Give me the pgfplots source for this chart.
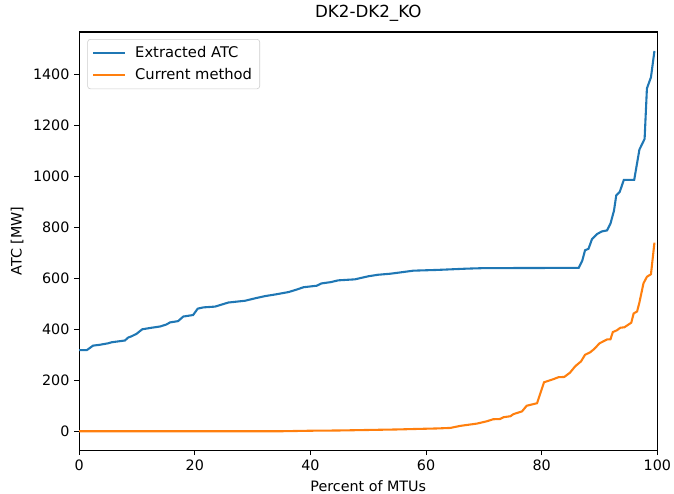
\documentclass[border=0pt]{standalone}
\usepackage{fontspec}
\setmainfont{DejaVu Sans}
\usepackage{pgfplots}
\pgfplotsset{compat=1.18}
\definecolor{tabblue}{HTML}{1F77B4}
\definecolor{taborange}{HTML}{FF7F0E}
\definecolor{legframe}{HTML}{CCCCCC}
\begin{document}
\begin{tikzpicture}
\begin{axis}[
  scale only axis,
  width=416pt, height=301pt,
  xmin=0, xmax=100,
  ymin=-74.6, ymax=1566.6,
  xtick={0,20,40,60,80,100},
  ytick={0,200,400,600,800,1000,1200,1400},
  tick align=outside,
  tick pos=left,
  major tick length=3.5pt,
  every tick/.style={black, line width=0.8pt},
  axis line style={line width=0.8pt},
  /pgf/number format/assume math mode=true,
  /pgf/number format/1000 sep={},
  ticklabel style={font=\fontsize{10.3}{12}\selectfont},
  title={DK2-DK2\_KO},
  title style={font=\fontsize{12}{14}\selectfont, yshift=-2pt},
  xlabel={Percent of MTUs},
  ylabel={ATC [MW]},
  label style={font=\fontsize{10.3}{12}\selectfont},
  legend cell align=left,
  legend style={at={(0.014,0.983)}, anchor=north west, draw=legframe, rounded corners=2pt,
    font=\fontsize{10.6}{12}\selectfont, inner xsep=3.5pt, inner ysep=3pt, row sep=2.5pt,
    /tikz/every odd column/.append style={column sep=4.5pt}},
  legend image code/.code={\draw[#1] (0cm,0cm) -- (0.8cm,0cm);},
]
\addplot[tabblue, line width=1.5pt] coordinates {
(0,318)(1.3,318)(2.4,336)(3.5,339)(5.0,345)(5.6,349)(7.9,356)(8.5,368)(9.0,372)(9.9,382)(10.9,400)(12.5,406)(14,411)(15.1,419)(15.7,427)(17.1,432)(18.0,450)(19.7,456)(20.5,481)(21.5,486)(23.5,489)(25.8,505)(28.7,512)(30.5,522)(32.1,530)(34,537)(36.2,546)(37.5,555)(38.8,565)(41.1,571)(41.9,580)(43.5,585)(44.8,592)(47.7,596)(50.0,608)(51.7,614)(53.8,618)(55.5,623)(57.8,630)(62,633)(67.1,638)(70,640)(86.4,641)(87.0,668)(87.5,710)(88.1,716)(88.7,754)(89.6,774)(90.4,784)(91.3,788)(91.9,815)(92.5,865)(92.9,926)(93.5,939)(94.2,986)(96.0,986)(96.9,1105)(97.8,1147)(98.2,1345)(98.9,1389)(99.5,1492)
};
\addlegendentry{Extracted ATC}
\addplot[taborange, line width=1.5pt] coordinates {
(0,0)(35,0)(40,2)(45,3)(50,5)(55,7)(58.4,9)(62,11)(64.2,13)(65.9,21)(68.8,30)(70.5,39)(71.6,47)(72.8,48)(73.4,55)(74.6,59)(75.1,67)(76.6,78)(77.4,100)(79.2,110)(80.4,192)(82.1,205)(82.9,212)(83.9,213)(84.9,230)(85.8,255)(86.8,274)(87.5,300)(88.4,310)(89.1,323)(90.0,345)(91.3,360)(91.9,361)(92.3,389)(93.0,396)(93.6,406)(94.3,408)(95.5,426)(95.9,462)(96.5,470)(96.9,505)(97.6,580)(98.2,606)(98.9,616)(99.5,740)
};
\addlegendentry{Current method}
\coordinate (sw) at (rel axis cs:0,0);
\coordinate (ne) at (rel axis cs:1,1);
\end{axis}
\pgfresetboundingbox
\path[use as bounding box] ([xshift=-57pt,yshift=-31pt]sw) rectangle ([xshift=12pt,yshift=23pt]ne);
\end{tikzpicture}
\end{document}
